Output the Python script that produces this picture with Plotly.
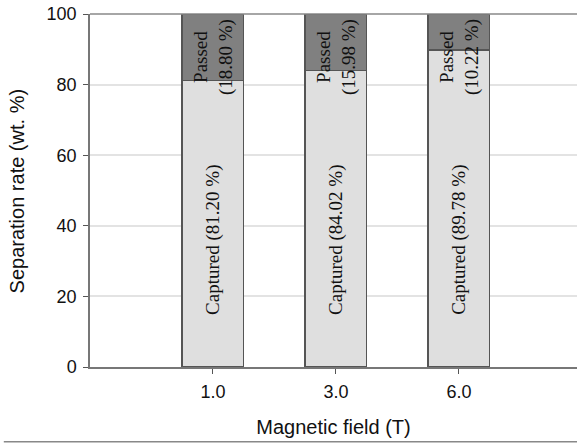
import plotly.graph_objects as go

fields = ["1.0", "3.0", "6.0"]
captured = [81.20, 84.02, 89.78]
passed = [18.80, 15.98, 10.22]
yticks = [0, 20, 40, 60, 80, 100]

serif = "Liberation Serif, Times New Roman, serif"
sans = "Liberation Sans, Arial, sans-serif"

fig = go.Figure()
fig.add_trace(go.Bar(x=fields, y=captured, width=0.5, name="Captured",
                     marker=dict(color="#dfdfdf", line=dict(color="#555555", width=1.5))))
fig.add_trace(go.Bar(x=fields, y=passed, width=0.5, name="Passed",
                     marker=dict(color="#808080", line=dict(color="#555555", width=1.5))))

for i, (c, p) in enumerate(zip(captured, passed)):
    fig.add_annotation(x=i, y=36, text=f"Captured ({c:.2f} %)", textangle=-90,
                       showarrow=False, xanchor="center", yanchor="middle",
                       font=dict(family=serif, size=19, color="#111111"))
    fig.add_annotation(x=i, y=87.8, text=f"Passed<br>({p:.2f} %)", textangle=-90,
                       showarrow=False, xanchor="center", yanchor="middle",
                       font=dict(family=serif, size=19, color="#111111"))

# y-axis title as annotation (so it may sit close to the left edge)
fig.add_annotation(xref="paper", yref="paper", x=-0.150, y=0.5,
                   text="Separation rate (wt. %)", textangle=-90, showarrow=False,
                   xanchor="center", yanchor="middle",
                   font=dict(family=sans, size=20, color="#111111"))

# top line at 100 and bottom border line
fig.add_shape(type="line", xref="paper", yref="paper", x0=0, x1=1, y0=1, y1=1,
              line=dict(color="#888888", width=1.5))
fig.add_shape(type="line", xref="paper", yref="paper", x0=-0.177, x1=1.0,
              y0=-0.2115, y1=-0.2115, line=dict(color="#888888", width=1.5))

fig.update_layout(
    barmode="stack",
    width=577, height=443,
    margin=dict(l=90, r=0, t=14, b=76),
    paper_bgcolor="white", plot_bgcolor="white",
    showlegend=False,
    hovermode=False,
)
fig.update_xaxes(type="category", range=[-1.0, 2.96], automargin=False,
                 showline=True, linecolor="#777777", linewidth=1.5,
                 ticks="outside", ticklen=5, tickcolor="#555555", tickwidth=1,
                 showgrid=False,
                 tickfont=dict(family=sans, size=18, color="#111111"),
                 ticklabelstandoff=3,
                 title=dict(text="Magnetic field (T)", standoff=19,
                            font=dict(family=sans, size=20, color="#111111")))
fig.update_yaxes(range=[0, 100], tickvals=yticks, automargin=False,
                 showline=True, linecolor="#777777", linewidth=1.5,
                 ticks="outside", ticklen=5, tickcolor="#555555", tickwidth=1,
                 showgrid=True, gridcolor="#e3e3e3", gridwidth=1.5,
                 zeroline=False, ticklabeloverflow="allow",
                 tickfont=dict(family=sans, size=18, color="#111111"),
                 ticklabelstandoff=3)

# remove the default page margin so the figure fills the window exactly
fig.write_html("out.html", config={"displayModeBar": False},
               post_script="document.body.style.margin='0px';")
